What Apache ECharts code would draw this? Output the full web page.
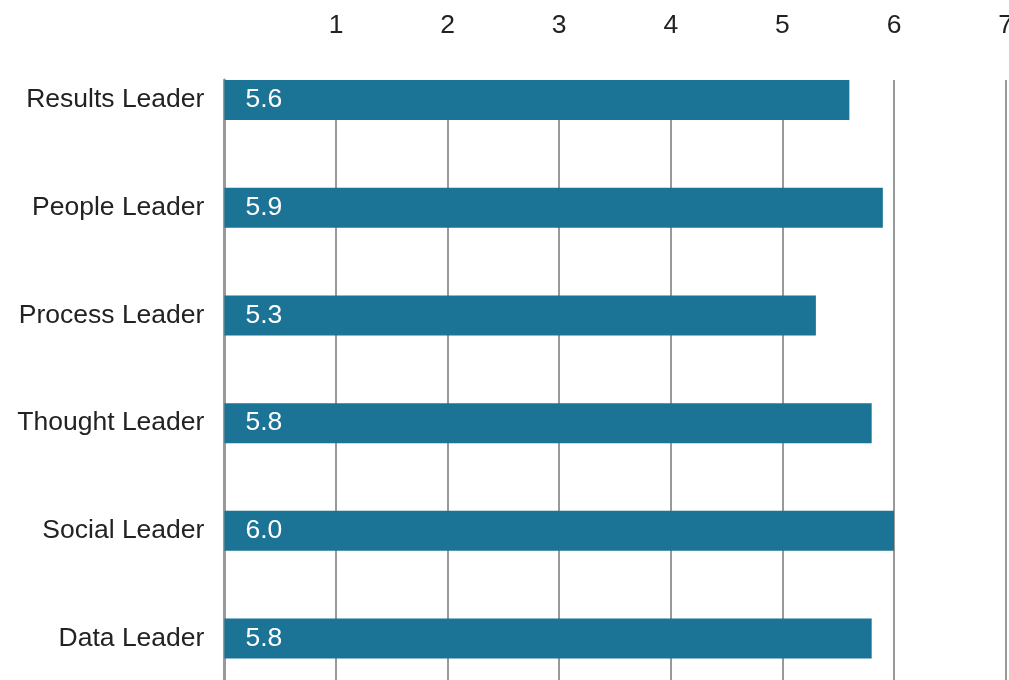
<!DOCTYPE html>
<html>
<head>
<meta charset="utf-8">
<script src="https://cdn.jsdelivr.net/npm/echarts@6/dist/echarts.min.js"></script>
<style>html,body{margin:0;padding:0;background:#fff}#chart{width:1009px;height:680px}</style>
</head>
<body>
<div id="chart"></div>
<script>
const categories = ['Results Leader', 'People Leader', 'Process Leader', 'Thought Leader', 'Social Leader', 'Data Leader'];
const scores = [5.6, 5.9, 5.3, 5.8, 6.0, 5.8];
const tickLabels = ['', '1', '2', '3', '4', '5', '6', '7'];

const FONT = "'Liberation Sans', Arial, sans-serif";
const FS = 26.5;
const chart = echarts.init(document.getElementById('chart'), null, { renderer: 'canvas' });
chart.setOption({
  animation: false,
  backgroundColor: '#ffffff',
  grid: [
    { left: 224.4, right: 3.4, top: 46.2, height: 646.2, containLabel: false, outerBoundsMode: 'none' },
    { left: 224.4, right: 3.4, top: 80, height: 660, containLabel: false, outerBoundsMode: 'none' }
  ],
  xAxis: [
    { gridIndex: 0, type: 'value', min: 0, max: 7, interval: 1, show: false },
    {
      gridIndex: 1, type: 'value', position: 'top', min: 0, max: 7, interval: 1,
      axisLine: { show: false }, axisTick: { show: false },
      axisLabel: { margin: 41, color: '#222', fontSize: FS, fontFamily: FONT,
        formatter: (v) => tickLabels[Math.round(v)] },
      splitLine: { show: true, lineStyle: { color: '#999', width: 2 } }
    }
  ],
  yAxis: [
    {
      gridIndex: 0, type: 'category', data: categories, inverse: true,
      axisLine: { show: false }, axisTick: { show: false },
      axisLabel: { margin: 20, color: '#222', fontSize: FS, fontFamily: FONT, padding: [4, 0, 0, 0] },
      splitLine: { show: false }
    },
    {
      gridIndex: 1, type: 'value', min: 0, max: 1,
      axisLine: { show: true, lineStyle: { color: '#999', width: 3 } },
      axisTick: { show: false }, axisLabel: { show: false }, splitLine: { show: false }
    }
  ],
  series: [{
    type: 'bar', xAxisIndex: 0, yAxisIndex: 0, data: scores, barWidth: 40,
    itemStyle: { color: '#1b7395' },
    label: {
      show: true, position: 'insideLeft', distance: 21, color: '#ffffff', padding: [4, 0, 0, 0],
      fontSize: FS, fontFamily: FONT, formatter: (p) => p.value.toFixed(1)
    }
  }]
});
</script>
</body>
</html>
